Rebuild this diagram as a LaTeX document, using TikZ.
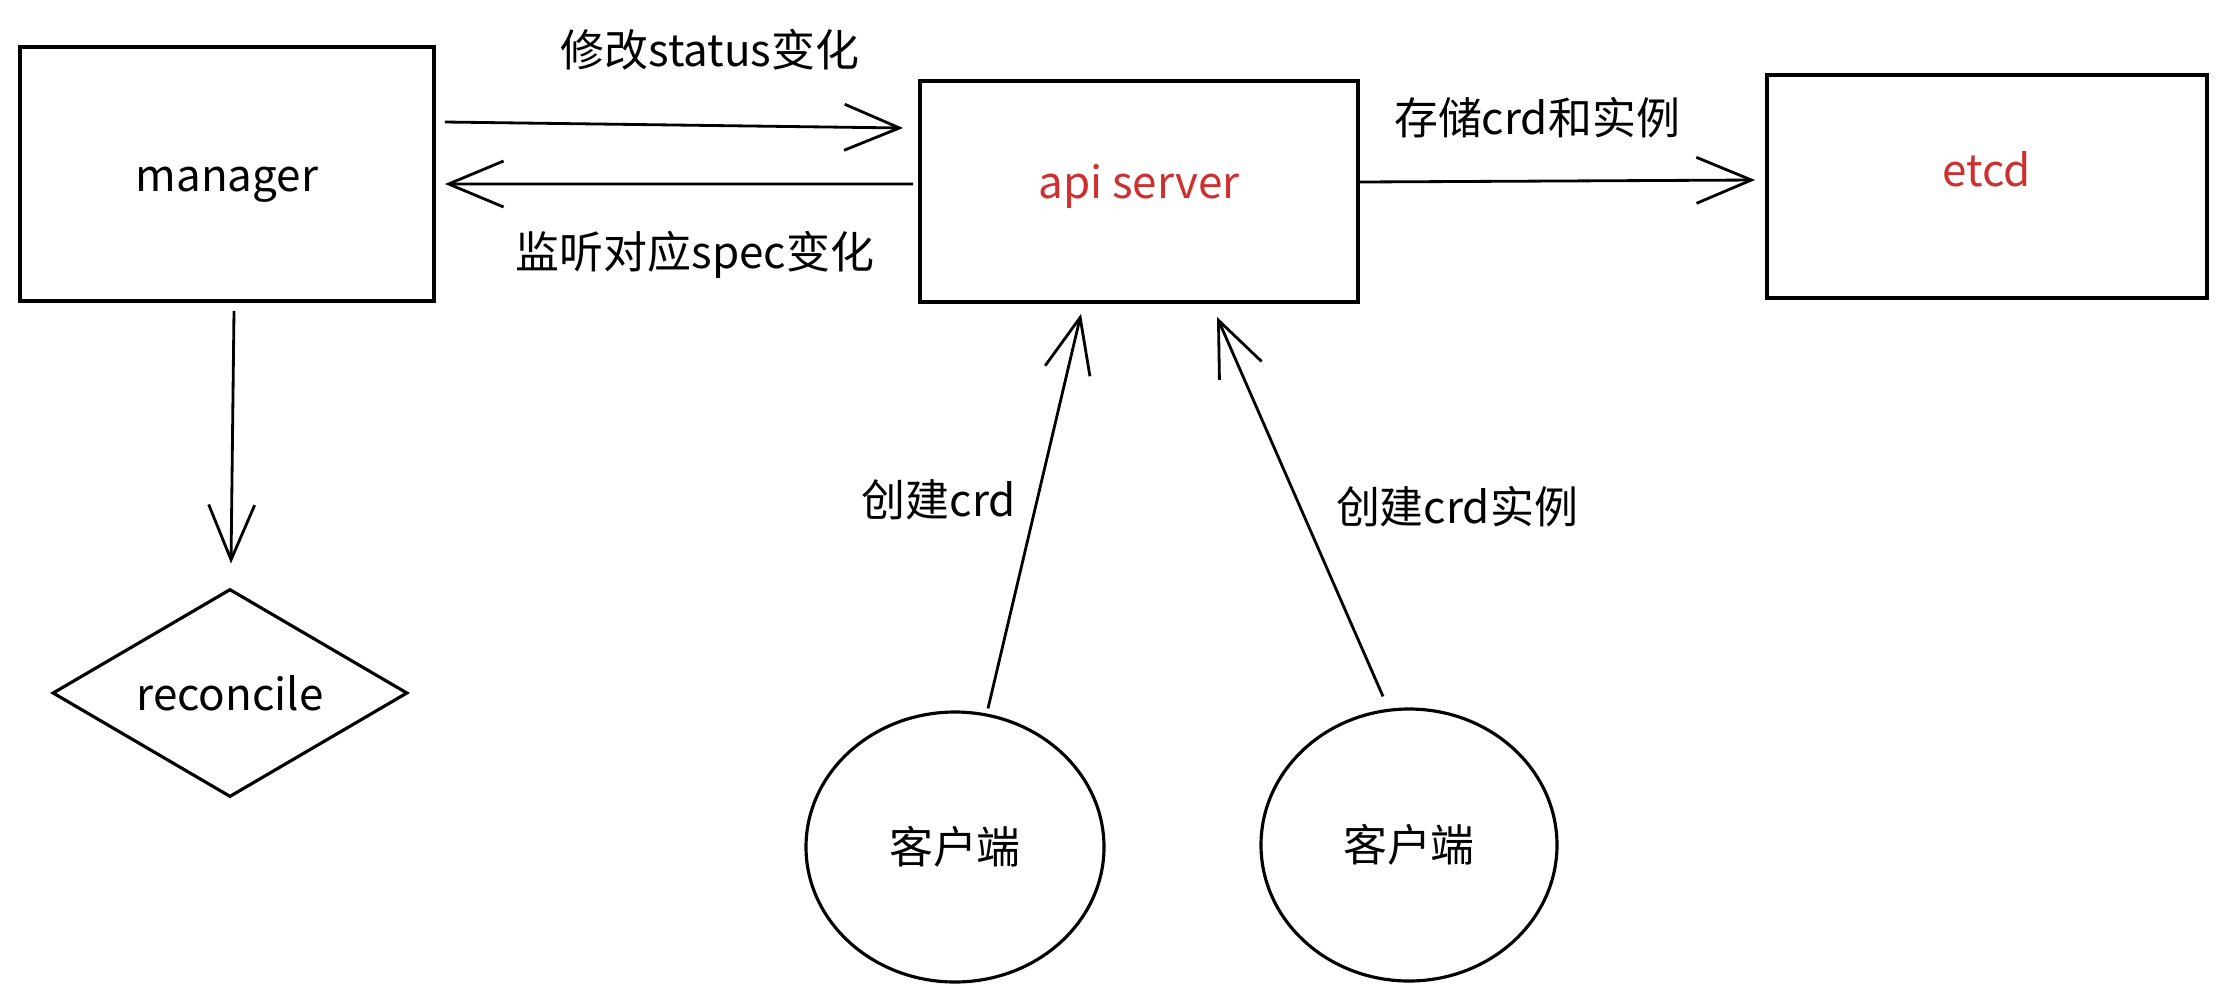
\documentclass[tikz,border=0pt]{standalone}
\usepackage{fontspec}
\setmainfont{Noto Sans CJK SC}
\usepackage{tikz}
\usetikzlibrary{arrows.meta}
\usetikzlibrary{shapes.geometric}
\definecolor{sketchred}{HTML}{D02F2F}
\begin{document}
\begin{tikzpicture}[
  font=\fontsize{12.5}{15}\selectfont,
  box/.style={draw, line width=1.1pt, inner sep=0cm},
  arr/.style={draw, line width=0.8pt, -{Straight Barb[length=5.5mm,width=4.6mm,line width=0.8pt]}},
  lbl/.style={inner sep=0cm}
]
\useasboundingbox (0,0) rectangle (22.25,-10.04);

\draw (2.27, -1.74)
  node[box, minimum width=4.14cm, minimum height=2.54cm,
       text height=0.45cm] (manager) {manager};
\draw (11.39, -1.915)
  node[box, minimum width=4.38cm, minimum height=2.21cm,
       text depth=0.2cm, text=sketchred] (api) {api server};
\draw (19.87, -1.865)
  node[box, minimum width=4.40cm, minimum height=2.23cm,
       text depth=0.34cm, text=sketchred] (etcd) {etcd};
\draw (2.30, -6.93)
  node[box, diamond, aspect=1.7, minimum width=3.55cm,
       minimum height=2.08cm, line width=0.9pt] (reconcile) {reconcile};
\draw (9.55, -8.47)
  node[box, ellipse, minimum width=2.98cm, minimum height=2.70cm,
       line width=0.9pt] (client1) {客户端};
\draw (14.09, -8.45)
  node[box, ellipse, minimum width=2.96cm, minimum height=2.72cm,
       line width=0.9pt] (client2) {客户端};

\draw[arr] ([shift={(0.09,0.52)}]manager.east) -- ([shift={(-0.15,0.635)}]api.west);
\draw[arr] ([shift={(-0.05,0.075)}]api.west) -- ([shift={(0.09,-0.10)}]manager.east);
\draw[arr] ([shift={(0,0.095)}]api.east) -- ([shift={(-0.10,0.065)}]etcd.west);
\draw[arr] ([shift={(0.07,-0.08)}]manager.south) -- ([shift={(0.01,0.24)}]reconcile.north);
\draw[arr] ([shift={(0.33,0.02)}]client1.north) -- ([shift={(-0.58,-0.10)}]api.south);
\draw[arr] ([shift={(-0.26,0.11)}]client2.north) -- ([shift={(0.78,-0.13)}]api.south);

\draw (7.10, -0.50) node[lbl] (lstatus) {修改status变化};
\draw (6.95, -2.55) node[lbl] (lspec) {监听对应spec变化};
\draw (15.37, -1.18) node[lbl] (lstore) {存储crd和实例};
\draw (9.39, -5.00) node[lbl] (lcrd) {创建crd};
\draw (14.57, -5.07) node[lbl] (linst) {创建crd实例};
\end{tikzpicture}
\end{document}
